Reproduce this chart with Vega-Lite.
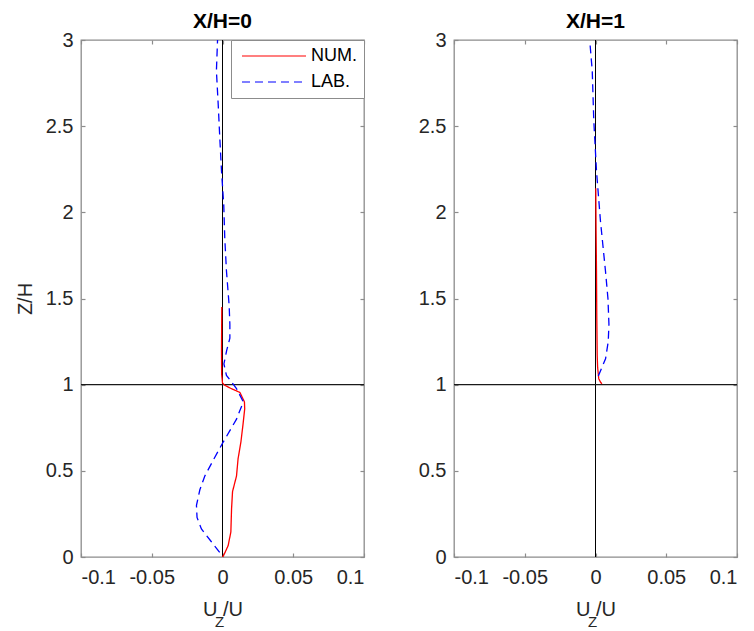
{
  "$schema": "https://vega.github.io/schema/vega-lite/v6.json",
  "padding": {"left": 14, "top": 10, "right": 3, "bottom": 0},
  "bounds": "flush",
  "spacing": 90,
  "config": {
    "font": "Liberation Sans",
    "view": {"stroke": "#8c8c8c", "strokeWidth": 1.3},
    "axis": {
      "grid": false, "domain": false, "tickColor": "#8c8c8c", "tickSize": -4, "tickWidth": 1.2,
      "labelColor": "#262626", "labelFontSize": 20, "titleColor": "#262626", "titleFontSize": 20,
      "titleFontWeight": "normal", "labelFont": "Liberation Sans", "titleFont": "Liberation Sans"
    },
    "title": {"fontSize": 21, "fontWeight": "bold", "color": "#000000", "baseline": "alphabetic", "offset": -2, "anchor": "middle", "frame": "group"}
  },
  "datasets": {
    "profiles": [
      {"panel": "X/H=0", "series": "NUM.", "x": 0, "z": 0},
      {"panel": "X/H=0", "series": "NUM.", "x": 0.0012, "z": 0.016},
      {"panel": "X/H=0", "series": "NUM.", "x": 0.004, "z": 0.066},
      {"panel": "X/H=0", "series": "NUM.", "x": 0.0059, "z": 0.145},
      {"panel": "X/H=0", "series": "NUM.", "x": 0.0064, "z": 0.28},
      {"panel": "X/H=0", "series": "NUM.", "x": 0.0071, "z": 0.38},
      {"panel": "X/H=0", "series": "NUM.", "x": 0.0099, "z": 0.47},
      {"panel": "X/H=0", "series": "NUM.", "x": 0.011, "z": 0.57},
      {"panel": "X/H=0", "series": "NUM.", "x": 0.013, "z": 0.667},
      {"panel": "X/H=0", "series": "NUM.", "x": 0.0145, "z": 0.77},
      {"panel": "X/H=0", "series": "NUM.", "x": 0.0157, "z": 0.86},
      {"panel": "X/H=0", "series": "NUM.", "x": 0.0155, "z": 0.9},
      {"panel": "X/H=0", "series": "NUM.", "x": 0.0123, "z": 0.955},
      {"panel": "X/H=0", "series": "NUM.", "x": 0.006, "z": 0.978},
      {"panel": "X/H=0", "series": "NUM.", "x": 0.0015, "z": 0.997},
      {"panel": "X/H=0", "series": "NUM.", "x": 0, "z": 1.01},
      {"panel": "X/H=0", "series": "NUM.", "x": -0.0006, "z": 1.06},
      {"panel": "X/H=0", "series": "NUM.", "x": -0.0007, "z": 1.2},
      {"panel": "X/H=0", "series": "NUM.", "x": -0.0005, "z": 1.45},
      {"panel": "X/H=0", "series": "LAB.", "x": -0.002, "z": 0.027},
      {"panel": "X/H=0", "series": "LAB.", "x": -0.008, "z": 0.09},
      {"panel": "X/H=0", "series": "LAB.", "x": -0.0149, "z": 0.163},
      {"panel": "X/H=0", "series": "LAB.", "x": -0.018, "z": 0.23},
      {"panel": "X/H=0", "series": "LAB.", "x": -0.0184, "z": 0.3},
      {"panel": "X/H=0", "series": "LAB.", "x": -0.016, "z": 0.39},
      {"panel": "X/H=0", "series": "LAB.", "x": -0.0125, "z": 0.47},
      {"panel": "X/H=0", "series": "LAB.", "x": -0.006, "z": 0.57},
      {"panel": "X/H=0", "series": "LAB.", "x": 0.0005, "z": 0.667},
      {"panel": "X/H=0", "series": "LAB.", "x": 0.0099, "z": 0.8},
      {"panel": "X/H=0", "series": "LAB.", "x": 0.0147, "z": 0.9},
      {"panel": "X/H=0", "series": "LAB.", "x": 0.0099, "z": 0.977},
      {"panel": "X/H=0", "series": "LAB.", "x": 0.0028, "z": 1.054},
      {"panel": "X/H=0", "series": "LAB.", "x": 0.001, "z": 1.12},
      {"panel": "X/H=0", "series": "LAB.", "x": 0.003, "z": 1.2},
      {"panel": "X/H=0", "series": "LAB.", "x": 0.0052, "z": 1.27},
      {"panel": "X/H=0", "series": "LAB.", "x": 0.0052, "z": 1.35},
      {"panel": "X/H=0", "series": "LAB.", "x": 0.0047, "z": 1.46},
      {"panel": "X/H=0", "series": "LAB.", "x": 0.0028, "z": 1.66},
      {"panel": "X/H=0", "series": "LAB.", "x": 0.0016, "z": 1.85},
      {"panel": "X/H=0", "series": "LAB.", "x": 0.0009, "z": 2.04},
      {"panel": "X/H=0", "series": "LAB.", "x": -0.0007, "z": 2.24},
      {"panel": "X/H=0", "series": "LAB.", "x": -0.0019, "z": 2.43},
      {"panel": "X/H=0", "series": "LAB.", "x": -0.003, "z": 2.62},
      {"panel": "X/H=0", "series": "LAB.", "x": -0.0043, "z": 2.82},
      {"panel": "X/H=0", "series": "LAB.", "x": -0.0035, "z": 3.0},
      {"panel": "X/H=1", "series": "NUM.", "x": 0.0045, "z": 1.005},
      {"panel": "X/H=1", "series": "NUM.", "x": 0.0035, "z": 1.015},
      {"panel": "X/H=1", "series": "NUM.", "x": 0.0023, "z": 1.035},
      {"panel": "X/H=1", "series": "NUM.", "x": 0.0015, "z": 1.1},
      {"panel": "X/H=1", "series": "NUM.", "x": 0.0012, "z": 1.17},
      {"panel": "X/H=1", "series": "NUM.", "x": 0.0009, "z": 1.4},
      {"panel": "X/H=1", "series": "NUM.", "x": 0.0007, "z": 1.66},
      {"panel": "X/H=1", "series": "NUM.", "x": 0.0004, "z": 1.9},
      {"panel": "X/H=1", "series": "NUM.", "x": 0.0002, "z": 2.14},
      {"panel": "X/H=1", "series": "LAB.", "x": 0.002, "z": 1.05},
      {"panel": "X/H=1", "series": "LAB.", "x": 0.0045, "z": 1.1},
      {"panel": "X/H=1", "series": "LAB.", "x": 0.0071, "z": 1.15},
      {"panel": "X/H=1", "series": "LAB.", "x": 0.009, "z": 1.25},
      {"panel": "X/H=1", "series": "LAB.", "x": 0.0095, "z": 1.35},
      {"panel": "X/H=1", "series": "LAB.", "x": 0.0088, "z": 1.5},
      {"panel": "X/H=1", "series": "LAB.", "x": 0.0071, "z": 1.655},
      {"panel": "X/H=1", "series": "LAB.", "x": 0.0035, "z": 1.95},
      {"panel": "X/H=1", "series": "LAB.", "x": 0.0007, "z": 2.24},
      {"panel": "X/H=1", "series": "LAB.", "x": -0.0012, "z": 2.53},
      {"panel": "X/H=1", "series": "LAB.", "x": -0.0023, "z": 2.82},
      {"panel": "X/H=1", "series": "LAB.", "x": -0.004, "z": 2.99}
    ]
  },
  "resolve": {"scale": {"color": "independent", "strokeDash": "independent"}},
  "hconcat": [
    {
      "width": 283, "height": 517,
      "title": "X/H=0",
      "resolve": {"axis": {"x": "independent", "y": "independent"}},
      "layer": [
        {
          "data": {"values": [{}]},
          "mark": {"type": "rule", "color": "#000000", "strokeWidth": 1},
          "encoding": {"x": {"datum": 0, "type": "quantitative", "scale": {"domain": [-0.1, 0.1]}, "axis": {"orient": "top", "labels": false, "title": null, "values": [-0.1, -0.05, 0, 0.05, 0.1]}}}
        },
        {
          "data": {"values": [{}]},
          "mark": {"type": "rule", "color": "#1a1a1a", "strokeWidth": 1.2},
          "encoding": {"y": {"datum": 1, "type": "quantitative", "scale": {"domain": [0, 3]}, "axis": {"orient": "right", "labels": false, "title": null, "values": [0, 0.5, 1, 1.5, 2, 2.5, 3]}}}
        },
        {
          "data": {"name": "profiles"},
          "transform": [{"filter": "datum.panel === 'X/H=0'"}],
          "mark": {"type": "line", "strokeWidth": 1.3, "clip": true},
          "encoding": {
            "x": {"field": "x", "type": "quantitative", "scale": {"domain": [-0.1, 0.1]}, "axis": {"values": [-0.1, -0.05, 0, 0.05, 0.1], "labelExpr": "'' + datum.value", "title": "U   /U", "labelPadding": 14, "titlePadding": 12}},
            "y": {"field": "z", "type": "quantitative", "scale": {"domain": [0, 3]}, "axis": {"values": [0, 0.5, 1, 1.5, 2, 2.5, 3], "labelExpr": "'' + datum.value", "title": "Z/H", "labelPadding": 12, "titlePadding": 10}},
            "color": {"field": "series", "type": "nominal", "scale": {"domain": ["NUM.", "LAB."], "range": ["#ff0000", "#0000ff"]},
              "legend": {"title": null, "orient": "top-right", "offset": 0, "fillColor": "#ffffff", "strokeColor": "#8c8c8c", "padding": 7, "symbolType": "M-1,0H11.8", "symbolSize": 100, "symbolStrokeWidth": 1.2, "labelFontSize": 18, "labelOffset": 55, "rowPadding": 8, "labelColor": "#000000", "labelFont": "Liberation Sans"}},
            "strokeDash": {"field": "series", "type": "nominal", "scale": {"domain": ["NUM.", "LAB."], "range": [[1, 0], [8, 5]]},
              "legend": {"title": null, "orient": "top-right", "offset": 0, "fillColor": "#ffffff", "strokeColor": "#8c8c8c", "padding": 7, "symbolType": "M-1,0H11.8", "symbolSize": 100, "symbolStrokeWidth": 1.2, "labelFontSize": 18, "labelOffset": 55, "rowPadding": 8, "labelColor": "#000000", "labelFont": "Liberation Sans"}},
            "order": {"field": "z", "type": "quantitative"}
          }
        },
        {
          "data": {"values": [{}]},
          "mark": {"type": "text", "text": "Z", "fontSize": 15, "dx": -3, "dy": 70, "baseline": "alphabetic", "align": "center", "color": "#262626", "font": "Liberation Sans"},
          "encoding": {"x": {"datum": 0, "type": "quantitative", "axis": null}, "y": {"datum": 0, "type": "quantitative", "axis": null}}
        }
      ]
    },
    {
      "width": 283, "height": 517,
      "title": "X/H=1",
      "resolve": {"axis": {"x": "independent", "y": "independent"}},
      "layer": [
        {
          "data": {"values": [{}]},
          "mark": {"type": "rule", "color": "#000000", "strokeWidth": 1},
          "encoding": {"x": {"datum": 0, "type": "quantitative", "scale": {"domain": [-0.1, 0.1]}, "axis": {"orient": "top", "labels": false, "title": null, "values": [-0.1, -0.05, 0, 0.05, 0.1]}}}
        },
        {
          "data": {"values": [{}]},
          "mark": {"type": "rule", "color": "#1a1a1a", "strokeWidth": 1.2},
          "encoding": {"y": {"datum": 1, "type": "quantitative", "scale": {"domain": [0, 3]}, "axis": {"orient": "right", "labels": false, "title": null, "values": [0, 0.5, 1, 1.5, 2, 2.5, 3]}}}
        },
        {
          "data": {"name": "profiles"},
          "transform": [{"filter": "datum.panel === 'X/H=1'"}],
          "mark": {"type": "line", "strokeWidth": 1.3, "clip": true},
          "encoding": {
            "x": {"field": "x", "type": "quantitative", "scale": {"domain": [-0.1, 0.1]}, "axis": {"values": [-0.1, -0.05, 0, 0.05, 0.1], "labelExpr": "'' + datum.value", "title": "U   /U", "labelPadding": 14, "titlePadding": 12}},
            "y": {"field": "z", "type": "quantitative", "scale": {"domain": [0, 3]}, "axis": {"values": [0, 0.5, 1, 1.5, 2, 2.5, 3], "labelExpr": "'' + datum.value", "title": null, "labelPadding": 12}},
            "color": {"field": "series", "type": "nominal", "scale": {"domain": ["NUM.", "LAB."], "range": ["#ff0000", "#0000ff"]}, "legend": null},
            "strokeDash": {"field": "series", "type": "nominal", "scale": {"domain": ["NUM.", "LAB."], "range": [[1, 0], [8, 5]]}, "legend": null},
            "order": {"field": "z", "type": "quantitative"}
          }
        },
        {
          "data": {"values": [{}]},
          "mark": {"type": "text", "text": "Z", "fontSize": 15, "dx": -3, "dy": 70, "baseline": "alphabetic", "align": "center", "color": "#262626", "font": "Liberation Sans"},
          "encoding": {"x": {"datum": 0, "type": "quantitative", "axis": null}, "y": {"datum": 0, "type": "quantitative", "axis": null}}
        }
      ]
    }
  ]
}
